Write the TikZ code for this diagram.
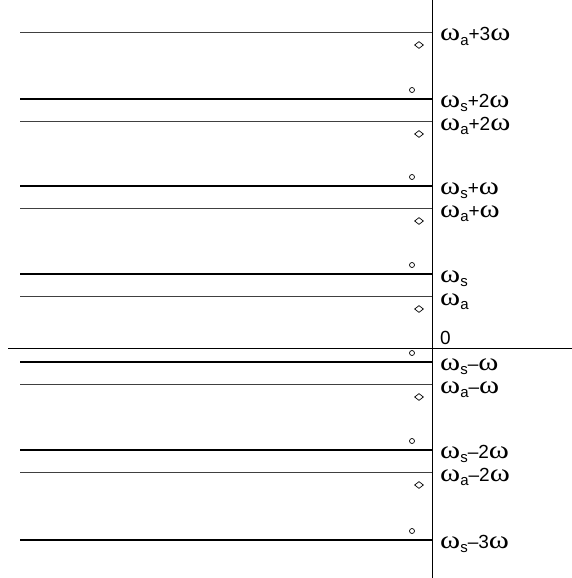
\documentclass[tikz,border=0pt]{standalone}
\usepackage{fontspec}
\setmainfont{Liberation Sans}
\newfontfamily\grk{Liberation Serif}
\newcommand{\om}{\scalebox{1.22}[1]{\fontsize{25}{25}\grk ω}}
\newcommand{\sub}[1]{\raisebox{-0.45ex}{\fontsize{15}{15}\selectfont #1}}
\tikzset{
  sline/.style={line width=1.4pt,black},
  aline/.style={line width=0.8pt,black!75},
  axisline/.style={line width=1pt,black},
  lbl/.style={anchor=base west,inner sep=0pt,font=\fontsize{19}{19}\selectfont},
  dmark/.style={draw,diamond,aspect=1.33,line width=0.7pt,minimum width=9pt,minimum height=7pt,inner sep=0pt},
  cmark/.style={draw,circle,line width=0.7pt,minimum size=5pt,inner sep=0pt}
}
\usetikzlibrary{shapes.geometric}
\begin{document}
\begin{tikzpicture}[x=1pt,y=-1pt]
\useasboundingbox (0,0) rectangle (572,578);
% axes
\coordinate (vt) at (432,0);
\coordinate (vb) at (432,578);
\draw[axisline] (vt) -- (vb);
\coordinate (hl) at (8,348);
\coordinate (hr) at (572,348);
\draw[axisline] (hl) -- (hr);
\node[lbl] (zero) at (440,344) {0};
% a lines
\foreach \y/\t [count=\i] in {32/{+3\om},121/{+2\om},208/{+\om},296/{},384/{–\om},472/{–2\om}}{
  \coordinate (al\i) at (20,\y);
  \coordinate (ar\i) at (432,\y);
  \draw[aline] (al\i) -- (ar\i);
  \node[dmark] (ad\i) at (419,\y+13) {};
  \node[lbl] (at\i) at (440,\y+9) {\om\sub{a}\t};
}
% s lines
\foreach \y/\t [count=\i] in {99/{+2\om},186/{+\om},274/{},362/{–\om},450/{–2\om},540/{–3\om}}{
  \coordinate (sl\i) at (20,\y);
  \coordinate (sr\i) at (432,\y);
  \draw[sline] (sl\i) -- (sr\i);
  \node[cmark] (sc\i) at (412,\y-9) {};
  \node[lbl] (st\i) at (440,\y+8) {\om\sub{s}\t};
}
\end{tikzpicture}
\end{document}
